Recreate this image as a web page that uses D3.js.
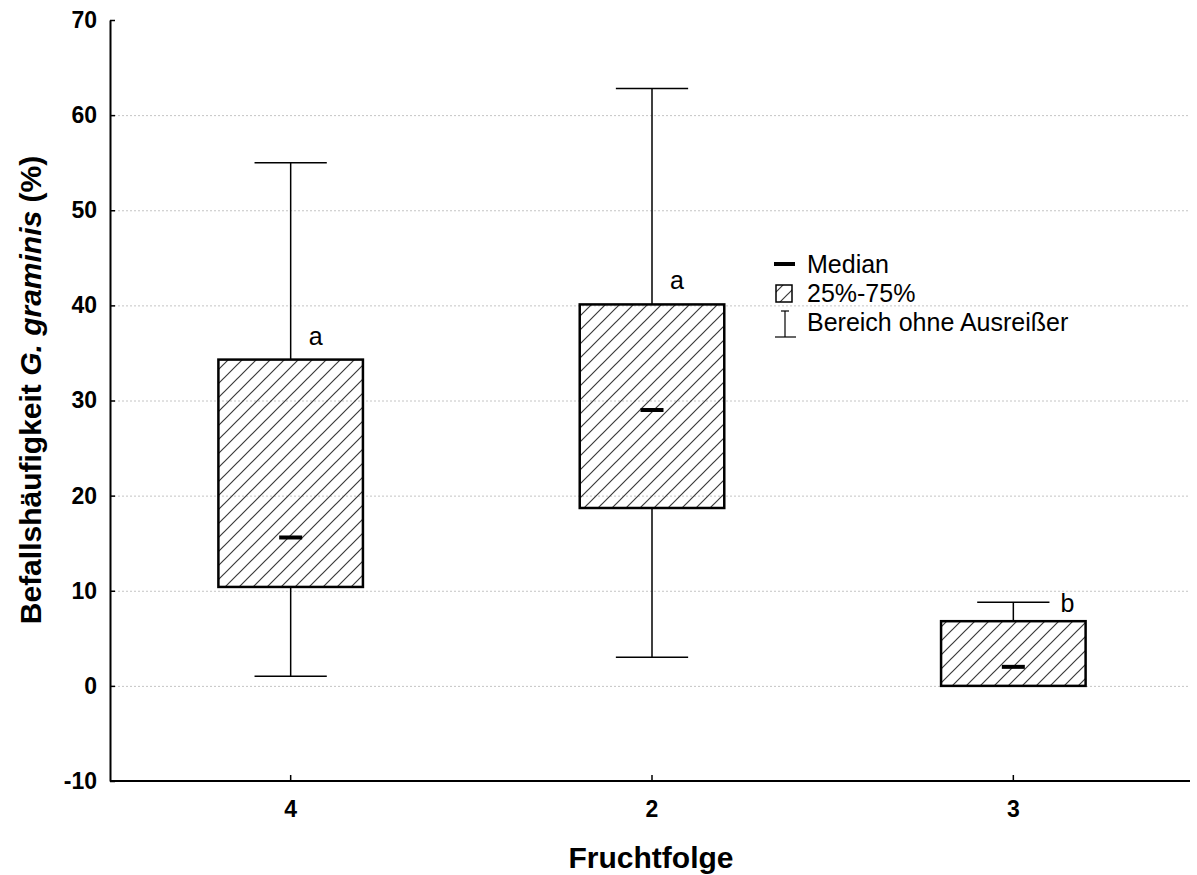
<!DOCTYPE html>
<html lang="de">
<head>
  <meta charset="utf-8" />
  <script src="https://d3js.org/d3.v7.min.js"></script>
  <style>
    body { margin: 0; background: #fff; }
    text { font-family: "Liberation Sans", Arial, sans-serif; }
    .grid line { stroke: #c4c4c4; stroke-dasharray: 2,2; stroke-width: 1px; }
    .tick-label { font-size: 23px; font-weight: bold; }
    .legend { font-size: 25px; }
  </style>
</head>
<body>
  <div id="visu"></div>
  <script>
    const categories = ["4", "2", "3"];
    const q1 = [10.4, 18.7, 0];
    const q3 = [34.3, 40.1, 6.8];
    const medians = [15.6, 29.0, 2.0];
    const whiskerLow = [1.0, 3.0, 0];
    const whiskerHigh = [55.0, 62.8, 8.8];
    const letters = ["a", "a", "b"];
    const yTicks = [-10, 0, 10, 20, 30, 40, 50, 60, 70];

    const width = 1197, height = 875;
    const margin = { top: 20, right: 3, bottom: 94, left: 110 };

    const svg = d3.select("#visu").append("svg")
      .attr("width", width)
      .attr("height", height);

    const defs = svg.append("defs");
    const pat = defs.append("pattern")
      .attr("id", "hatch")
      .attr("patternUnits", "userSpaceOnUse")
      .attr("width", 14)
      .attr("height", 14);
    pat.append("path")
      .attr("d", "M-2,2 l4,-4 M0,14 l14,-14 M12,16 l4,-4")
      .attr("stroke", "#3a3a3a")
      .attr("stroke-width", 1.2);

    const x = d3.scaleBand()
      .domain(categories)
      .range([margin.left, width - margin.right]);

    const y = d3.scaleLinear()
      .domain([-10, 70])
      .range([height - margin.bottom, margin.top]);

    // gridlines
    svg.append("g").attr("class", "grid")
      .selectAll("line")
      .data(yTicks.filter(d => d > -10 && d < 70))
      .enter().append("line")
      .attr("x1", margin.left)
      .attr("x2", 1190)
      .attr("y1", d => y(d) + 0.5)
      .attr("y2", d => y(d) + 0.5);

    // y axis
    const yAxis = svg.append("g")
      .attr("transform", `translate(${margin.left},0)`)
      .call(d3.axisLeft(y).tickValues(yTicks).tickFormat(d => String(d))
        .tickSizeInner(-5).tickSizeOuter(0).tickPadding(13));
    yAxis.select(".domain").attr("stroke-width", 2);
    yAxis.selectAll(".tick line").attr("stroke-width", 1.5);
    yAxis.selectAll(".tick text").attr("class", "tick-label").attr("font-size", null).attr("font-family", null);

    // x axis
    const xAxis = svg.append("g")
      .attr("transform", `translate(0,${height - margin.bottom})`)
      .call(d3.axisBottom(x).tickSizeInner(-6).tickSizeOuter(0).tickPadding(20));
    xAxis.select(".domain").attr("stroke-width", 2).attr("d", `M${margin.left},0H1190`);
    xAxis.selectAll(".tick line").attr("stroke-width", 1.5);
    xAxis.selectAll(".tick text").attr("class", "tick-label").attr("font-size", null).attr("font-family", null);

    const boxW = x.bandwidth() * 0.4;
    const capW = x.bandwidth() * 0.2;
    const medW = 23;

    const groups = svg.selectAll(".box")
      .data(categories)
      .enter().append("g")
      .attr("class", "box");

    const cx = d => x(d) + x.bandwidth() / 2;

    // whiskers
    groups.append("line")
      .attr("x1", cx).attr("x2", cx)
      .attr("y1", (d, i) => y(whiskerHigh[i]))
      .attr("y2", (d, i) => y(q3[i]))
      .attr("stroke", "#000").attr("stroke-width", 1.5);
    groups.append("line")
      .attr("x1", cx).attr("x2", cx)
      .attr("y1", (d, i) => y(whiskerLow[i]))
      .attr("y2", (d, i) => y(q1[i]))
      .attr("stroke", "#000").attr("stroke-width", 1.5);
    groups.append("line")
      .attr("x1", d => cx(d) - capW / 2).attr("x2", d => cx(d) + capW / 2)
      .attr("y1", (d, i) => y(whiskerHigh[i]))
      .attr("y2", (d, i) => y(whiskerHigh[i]))
      .attr("stroke", "#000").attr("stroke-width", 1.5);
    groups.filter((d, i) => whiskerLow[i] < q1[i]).append("line")
      .attr("x1", d => cx(d) - capW / 2).attr("x2", d => cx(d) + capW / 2)
      .attr("y1", d => y(whiskerLow[categories.indexOf(d)]))
      .attr("y2", d => y(whiskerLow[categories.indexOf(d)]))
      .attr("stroke", "#000").attr("stroke-width", 1.5);

    // boxes
    groups.append("rect")
      .attr("x", d => cx(d) - boxW / 2)
      .attr("width", boxW)
      .attr("y", (d, i) => y(q3[i]))
      .attr("height", (d, i) => y(q1[i]) - y(q3[i]))
      .attr("fill", "url(#hatch)")
      .attr("stroke", "#000")
      .attr("stroke-width", 2.5);

    // medians
    groups.append("line")
      .attr("x1", d => cx(d) - medW / 2).attr("x2", d => cx(d) + medW / 2)
      .attr("y1", (d, i) => y(medians[i]))
      .attr("y2", (d, i) => y(medians[i]))
      .attr("stroke", "#000").attr("stroke-width", 4);

    // letters
    groups.append("text")
      .attr("class", "legend")
      .attr("x", (d, i) => i === 2 ? cx(d) + capW / 2 + 11 : cx(d) + 18)
      .attr("y", (d, i) => i === 2 ? y(whiskerHigh[i]) + 10 : y(q3[i]) - 15)
      .text((d, i) => letters[i]);

    // legend
    const lg = svg.append("g").attr("transform", "translate(774,0)");
    lg.append("line").attr("x1", 0).attr("x2", 21).attr("y1", 264).attr("y2", 264)
      .attr("stroke", "#000").attr("stroke-width", 4);
    lg.append("text").attr("class", "legend").attr("x", 33).attr("y", 273).text("Median");
    lg.append("rect").attr("x", 2).attr("y", 285).attr("width", 16).attr("height", 17)
      .attr("fill", "url(#hatch)").attr("stroke", "#000").attr("stroke-width", 1.5);
    lg.append("text").attr("class", "legend").attr("x", 33).attr("y", 302).text("25%-75%");
    lg.append("line").attr("x1", 11).attr("x2", 11).attr("y1", 311).attr("y2", 337)
      .attr("stroke", "#000").attr("stroke-width", 1.2);
    lg.append("line").attr("x1", 7).attr("x2", 15).attr("y1", 311).attr("y2", 311)
      .attr("stroke", "#000").attr("stroke-width", 1.2);
    lg.append("line").attr("x1", 1).attr("x2", 22).attr("y1", 337).attr("y2", 337)
      .attr("stroke", "#000").attr("stroke-width", 1.2);
    lg.append("text").attr("class", "legend").attr("x", 33).attr("y", 331).text("Bereich ohne Ausreißer");

    // axis titles
    svg.append("text")
      .attr("x", 651)
      .attr("y", 868)
      .attr("text-anchor", "middle")
      .style("font-size", "30px").style("font-weight", "bold")
      .text("Fruchtfolge");

    const yt = svg.append("text")
      .attr("transform", "translate(41,390) rotate(-90)")
      .attr("text-anchor", "middle")
      .style("font-size", "30px").style("font-weight", "bold");
    yt.append("tspan").text("Befallshäufigkeit ");
    yt.append("tspan").style("font-style", "italic").text("G. graminis");
    yt.append("tspan").text(" (%)");
  </script>
</body>
</html>
